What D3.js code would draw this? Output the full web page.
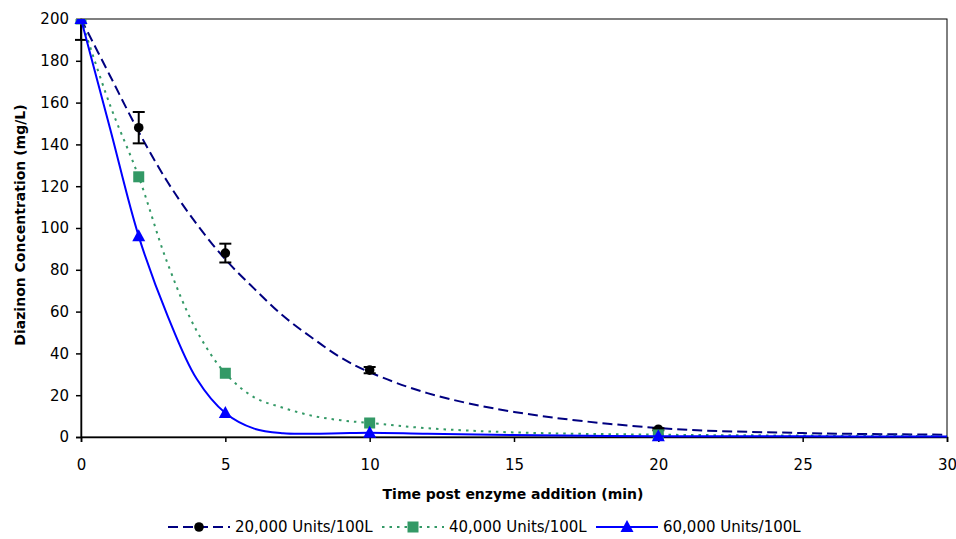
<!DOCTYPE html>
<html>
<head>
  <meta charset="utf-8">
  <title>Diazinon concentration</title>
  <script src="https://cdn.jsdelivr.net/npm/d3@7/dist/d3.min.js"></script>
  <style>
    body { margin: 0; background: #fff; }
    svg text { font-family: 'DejaVu Sans', Arial, sans-serif; fill: #000; }
  </style>
</head>
<body>
  <svg id="chart" width="956" height="539"></svg>

  <script>
    // measured points
    var times = [0, 2, 5, 10, 20];
    var conc20k = [200, 148, 88, 32, 3.7];
    var err20k = [10, 7.5, 4.5, 1.5, 0.5];
    var conc40k = [200, 124.5, 30.5, 6.7, 1];
    var conc60k = [200, 96, 11.5, 2, 0.3];

    // trend lines
    var fitTimes = [0, 1, 2, 3, 4, 5, 6, 7, 8, 9, 10, 12, 15, 20, 25, 30];
    var fit20k = [200, 173, 146, 122, 102, 85, 71, 58, 47.5, 38, 31, 21, 12, 4.3, 1.9, 1.1];
    var fit40k = [200, 159, 124.5, 83, 51, 30.5, 19, 14, 10.2, 8, 6.7, 4.2, 2.2, 1.1, 0.7, 0.5];
    var fit60k = [200, 148, 96, 58, 28, 11.5, 4, 1.8, 1.6, 1.8, 2, 1.5, 0.9, 0.4, 0.3, 0.2];

    var seriesNames = ['20,000 Units/100L', '40,000 Units/100L', '60,000 Units/100L'];
    var xTicks = [0, 5, 10, 15, 20, 25, 30];
    var yTicks = [0, 20, 40, 60, 80, 100, 120, 140, 160, 180, 200];

    var svg = d3.select('#chart'),
      margin = { top: 19, right: 9, bottom: 102, left: 81 },
      width = +svg.attr('width') - margin.left - margin.right,
      height = +svg.attr('height') - margin.top - margin.bottom,
      g = svg.append('g').attr('transform', 'translate(' + margin.left + ',' + margin.top + ')');

    var x = d3.scaleLinear().domain([0, 30]).range([0, width]);
    var y = d3.scaleLinear().domain([0, 200]).range([height, 0]);

    svg.append('defs').append('clipPath').attr('id', 'clip')
      .append('rect').attr('x', -8).attr('y', 0).attr('width', width + 16).attr('height', height + 8);

    // plot box
    g.append('rect')
      .attr('width', width).attr('height', height)
      .attr('fill', 'none').attr('stroke', '#000').attr('stroke-width', 1);

    var xAxis = g.append('g')
      .attr('transform', 'translate(0,' + height + ')')
      .call(d3.axisBottom(x).tickValues(xTicks).tickSize(5).tickPadding(17));
    var yAxis = g.append('g')
      .call(d3.axisLeft(y).tickValues(yTicks).tickSize(5).tickPadding(7));
    [xAxis, yAxis].forEach(a => {
      a.selectAll('text').attr('font-size', 15).attr('font-family', 'DejaVu Sans, Arial, sans-serif');
      a.select('.domain').attr('stroke', '#000').attr('stroke-width', 1.5);
      a.selectAll('.tick line').attr('stroke', '#000').attr('stroke-width', 1.5);
    });

    svg.append('text')
      .attr('x', margin.left + width / 2 - 1).attr('y', 499)
      .attr('text-anchor', 'middle').attr('font-size', 14).attr('font-weight', 'bold')
      .text('Time post enzyme addition (min)');
    svg.append('text')
      .attr('transform', 'translate(25,' + (margin.top + height / 2 - 3) + ') rotate(-90)')
      .attr('text-anchor', 'middle').attr('font-size', 14).attr('font-weight', 'bold')
      .text('Diazinon Concentration (mg/L)');

    var line = d3.line()
      .x((d, i) => x(fitTimes[i]))
      .y(d => y(d))
      .curve(d3.curveCatmullRom);

    var styles = [
      { color: '#000080', dash: '10,5', marker: 'circle', fill: '#000' },
      { color: '#339966', dash: '2.5,5', marker: 'square', fill: '#339966' },
      { color: '#0000ff', dash: null, marker: 'triangle', fill: '#0000ff' }
    ];
    var fits = [fit20k, fit40k, fit60k];
    var concs = [conc20k, conc40k, conc60k];

    var plot = g.append('g').attr('clip-path', 'url(#clip)');

    function drawMarker(sel, kind, fill, cx, cy) {
      if (kind === 'circle') {
        sel.append('circle').attr('cx', cx).attr('cy', cy).attr('r', 4.8).attr('fill', fill);
      } else if (kind === 'square') {
        sel.append('rect').attr('x', cx - 5.5).attr('y', cy - 5.5).attr('width', 11).attr('height', 11).attr('fill', fill);
      } else {
        sel.append('path')
          .attr('d', 'M' + cx + ',' + (cy - 7) + 'L' + (cx + 6.5) + ',' + (cy + 5) + 'L' + (cx - 6.5) + ',' + (cy + 5) + 'Z')
          .attr('fill', fill);
      }
    }

    fits.forEach((f, s) => {
      var st = styles[s];
      plot.append('path')
        .datum(f)
        .attr('fill', 'none')
        .attr('stroke', st.color)
        .attr('stroke-width', 2)
        .attr('stroke-dasharray', st.dash)
        .attr('d', line);

      if (s === 0) {
        times.forEach((t, i) => {
          var cx = x(t), y1 = y(conc20k[i] + err20k[i]), y2 = y(conc20k[i] - err20k[i]);
          var eb = plot.append('g').attr('stroke', '#000').attr('stroke-width', 2);
          eb.append('line').attr('x1', cx).attr('x2', cx).attr('y1', y1).attr('y2', y2);
          eb.append('line').attr('x1', cx - 6).attr('x2', cx + 6).attr('y1', y1).attr('y2', y1);
          eb.append('line').attr('x1', cx - 6).attr('x2', cx + 6).attr('y1', y2).attr('y2', y2);
        });
      }

      times.forEach((t, i) => drawMarker(plot, st.marker, st.fill, x(t), y(concs[s][i])));
    });

    // legend
    var legendX = [168, 382, 596], legendY = 527;
    seriesNames.forEach((name, s) => {
      var st = styles[s];
      var lg = svg.append('g');
      lg.append('line')
        .attr('x1', legendX[s]).attr('x2', legendX[s] + 62)
        .attr('y1', legendY).attr('y2', legendY)
        .attr('stroke', st.color).attr('stroke-width', 2)
        .attr('stroke-dasharray', st.dash);
      drawMarker(lg, st.marker, st.fill, legendX[s] + 31, legendY);
      lg.append('text')
        .attr('x', legendX[s] + 67).attr('y', legendY + 5)
        .attr('font-size', 15)
        .text(name);
    });
  </script>
</body>
</html>
